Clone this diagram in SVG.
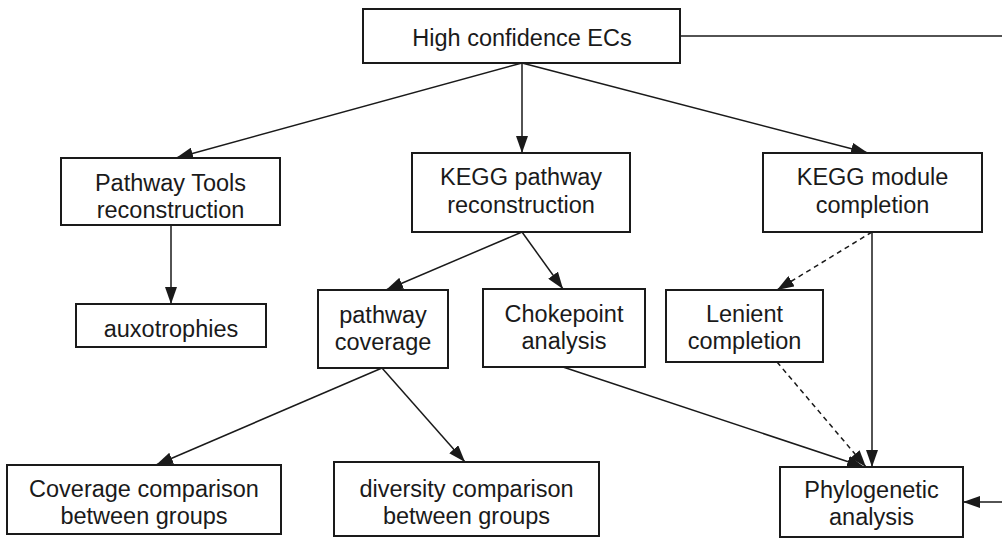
<svg xmlns="http://www.w3.org/2000/svg" width="1002" height="539" viewBox="0 0 1002 539">
<style>
.box{fill:#fff;stroke:#1a1a1a;stroke-width:2}
.t{font-family:"Liberation Sans",Arial,sans-serif;font-size:23.5px;fill:#1a1a1a;text-anchor:middle}
.e{fill:none;stroke:#1a1a1a;stroke-width:1.5}
.d{stroke-dasharray:5,4}
</style>
<defs>
<marker id="ah" markerUnits="userSpaceOnUse" markerWidth="18" markerHeight="12" refX="17" refY="6" orient="auto">
<path d="M0,0 L17,6 L0,12 z" fill="#1a1a1a"/>
</marker>
</defs>
<rect width="1002" height="539" fill="#fff"/>
<g id="connectors">
<line class="e" x1="680" y1="36" x2="1002" y2="36"/>
<line class="e" x1="522" y1="63" x2="176" y2="158" marker-end="url(#ah)"/>
<line class="e" x1="522" y1="63" x2="522" y2="153" marker-end="url(#ah)"/>
<line class="e" x1="522" y1="63" x2="868" y2="153" marker-end="url(#ah)"/>
<line class="e" x1="171" y1="225" x2="171" y2="304" marker-end="url(#ah)"/>
<line class="e" x1="522" y1="232" x2="386" y2="290" marker-end="url(#ah)"/>
<line class="e" x1="522" y1="232" x2="563" y2="289" marker-end="url(#ah)"/>
<line class="e d" x1="872" y1="232" x2="777" y2="290" marker-end="url(#ah)"/>
<line class="e" x1="872" y1="232" x2="872" y2="467" marker-end="url(#ah)"/>
<line class="e" x1="382" y1="368" x2="156" y2="465" marker-end="url(#ah)"/>
<line class="e" x1="382" y1="368" x2="465" y2="462" marker-end="url(#ah)"/>
<line class="e" x1="563" y1="367" x2="864" y2="467" marker-end="url(#ah)"/>
<line class="e d" x1="777" y1="362" x2="866" y2="467" marker-end="url(#ah)"/>
<line class="e" x1="1002" y1="502" x2="963" y2="502" marker-end="url(#ah)"/>
</g>
<g id="high">
<rect class="box" x="363" y="9" width="317" height="54"/>
<text class="t" x="522" y="46">High confidence ECs</text>
</g>
<g id="pathwaytools">
<rect class="box" x="61" y="158" width="219" height="67"/>
<text class="t" x="170.5" y="191">Pathway Tools</text>
<text class="t" x="170.5" y="218">reconstruction</text>
</g>
<g id="keggpathway">
<rect class="box" x="412" y="153" width="218" height="79"/>
<text class="t" x="521" y="185">KEGG pathway</text>
<text class="t" x="521" y="213">reconstruction</text>
</g>
<g id="keggmodule">
<rect class="box" x="763" y="153" width="219" height="79"/>
<text class="t" x="872.5" y="185">KEGG module</text>
<text class="t" x="872.5" y="213">completion</text>
</g>
<g id="auxotrophies">
<rect class="box" x="76" y="304" width="190" height="43"/>
<text class="t" x="171" y="337">auxotrophies</text>
</g>
<g id="coverage">
<rect class="box" x="318" y="290" width="130" height="78"/>
<text class="t" x="383" y="323">pathway</text>
<text class="t" x="383" y="350">coverage</text>
</g>
<g id="chokepoint">
<rect class="box" x="483" y="289" width="162" height="78"/>
<text class="t" x="564" y="322">Chokepoint</text>
<text class="t" x="564" y="349">analysis</text>
</g>
<g id="lenient">
<rect class="box" x="666" y="290" width="157" height="72"/>
<text class="t" x="744.5" y="322">Lenient</text>
<text class="t" x="744.5" y="349">completion</text>
</g>
<g id="covcomp">
<rect class="box" x="7" y="465" width="274" height="69"/>
<text class="t" x="144" y="497">Coverage comparison</text>
<text class="t" x="144" y="524">between groups</text>
</g>
<g id="divcomp">
<rect class="box" x="334" y="462" width="265" height="74"/>
<text class="t" x="466.5" y="497">diversity comparison</text>
<text class="t" x="466.5" y="524">between groups</text>
</g>
<g id="phylo">
<rect class="box" x="780" y="467" width="183" height="70"/>
<text class="t" x="871.5" y="498">Phylogenetic</text>
<text class="t" x="871.5" y="525">analysis</text>
</g>
</svg>
